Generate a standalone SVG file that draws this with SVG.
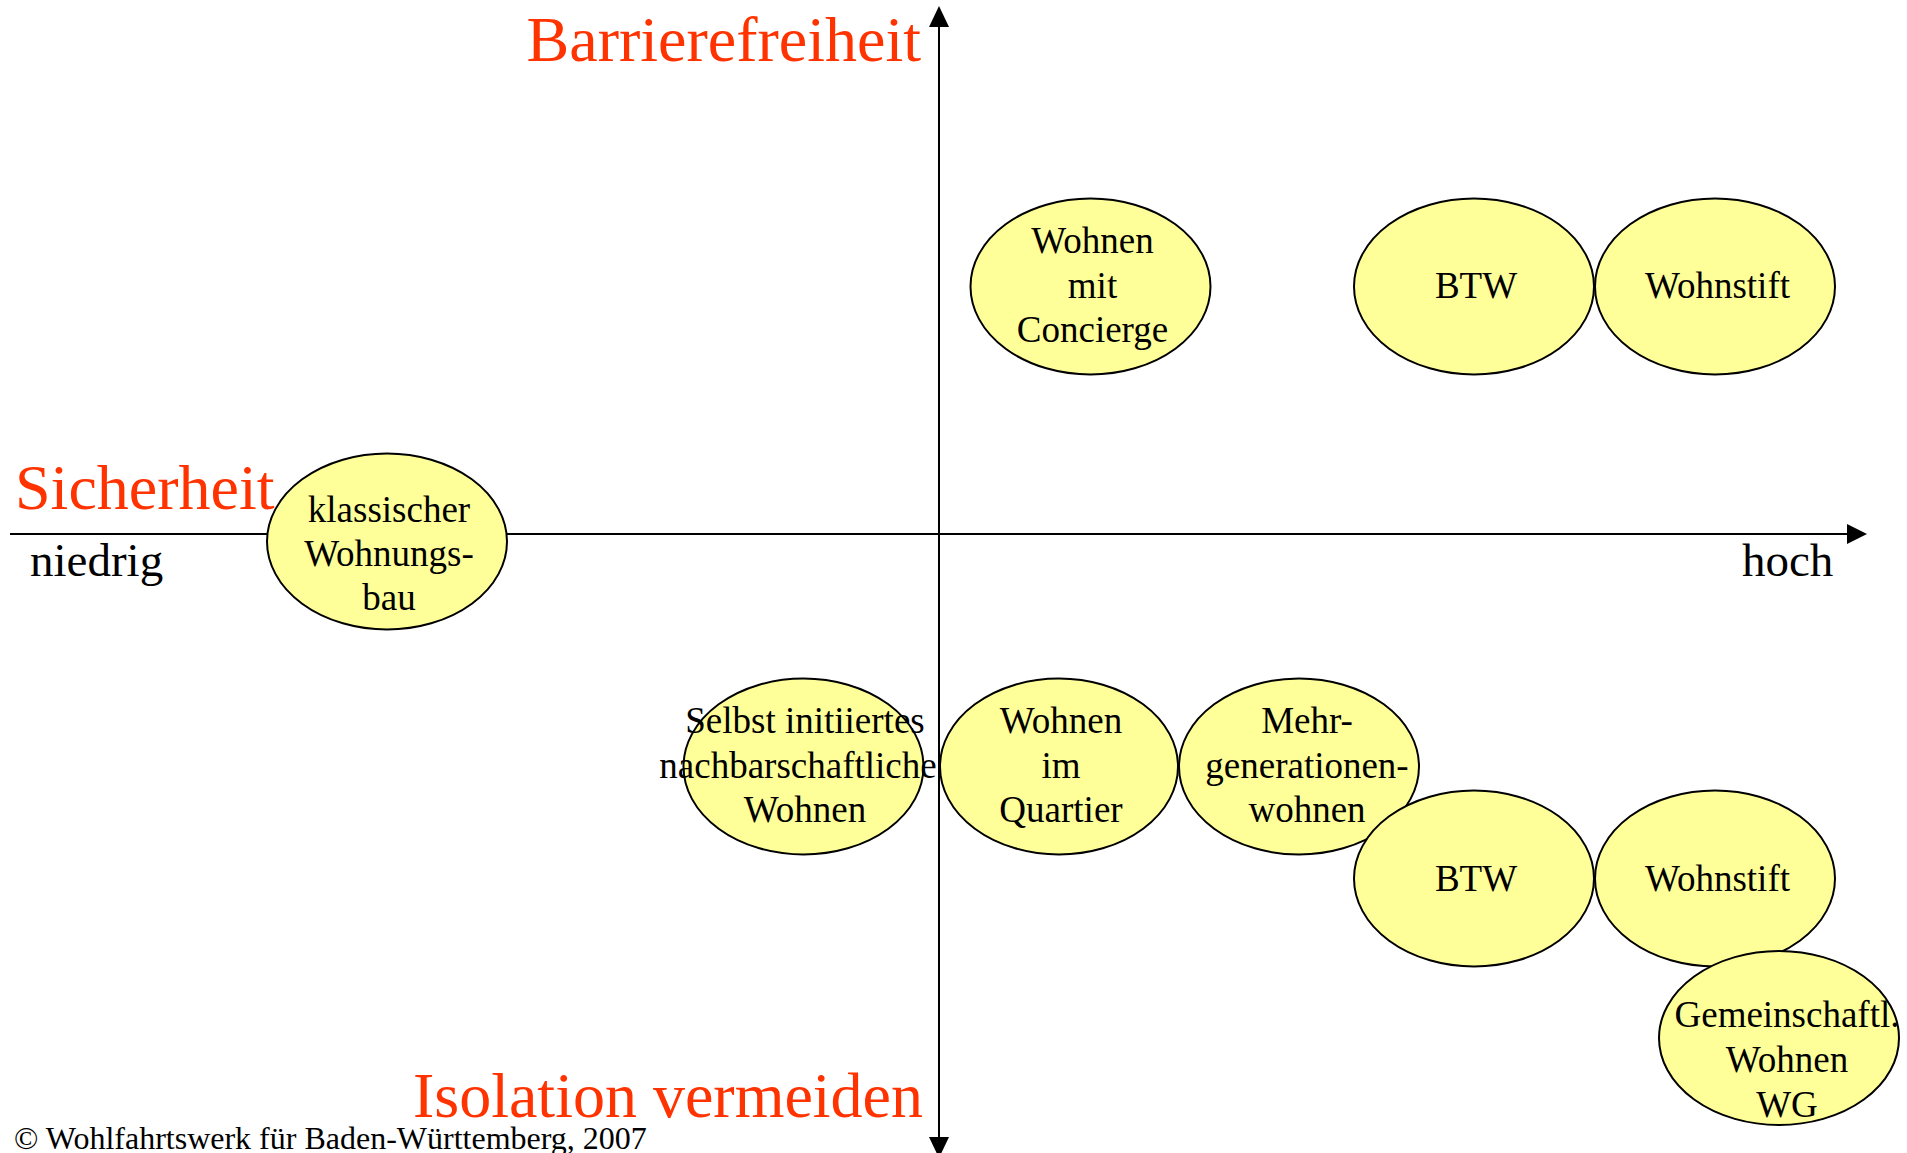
<svg xmlns="http://www.w3.org/2000/svg" width="1907" height="1153" viewBox="0 0 1907 1153">
<style>
.node ellipse{fill:#FFFF99;stroke:#000;stroke-width:2}
.node text{font-family:"Liberation Serif","Times New Roman",serif;font-size:37px;fill:#000;text-anchor:middle}
.axis{stroke:#000;stroke-width:2;fill:none}
.head{fill:#000}
.title{font-family:"Liberation Serif","Times New Roman",serif;font-size:64px;fill:#FF3300}
.lbl{font-family:"Liberation Serif","Times New Roman",serif;font-size:47px;fill:#000}
.copy{font-family:"Liberation Serif","Times New Roman",serif;font-size:32px;fill:#000}
</style>
<rect width="1907" height="1153" fill="#fff"/>
<g id="connectors">
<line class="axis" x1="10" y1="534" x2="1848" y2="534"/>
<polygon class="head" points="1847,524 1867,534 1847,544"/>
<line class="axis" x1="939" y1="25" x2="939" y2="1140"/>
<polygon class="head" points="929,27 939,6 949,27"/>
<polygon class="head" points="929,1137 939,1158 949,1137"/>
</g>
<g id="labels">
<text class="title" x="921" y="61" text-anchor="end">Barrierefreiheit</text>
<text class="title" x="15" y="509">Sicherheit</text>
<text class="title" x="923" y="1117" text-anchor="end">Isolation vermeiden</text>
<text class="lbl" x="30" y="576">niedrig</text>
<text class="lbl" x="1742" y="576">hoch</text>
<text class="copy" x="14" y="1149">© Wohlfahrtswerk für Baden-Württemberg, 2007</text>
</g>
<g id="klassischer" class="node">
<ellipse cx="387" cy="541.5" rx="120" ry="88"/>
<text x="389" y="522">klassischer</text>
<text x="389" y="566">Wohnungs-</text>
<text x="389" y="610">bau</text>
</g>
<g id="concierge" class="node">
<ellipse cx="1090.5" cy="286.5" rx="120" ry="88"/>
<text x="1092.5" y="253">Wohnen</text>
<text x="1092.5" y="298">mit</text>
<text x="1092.5" y="342">Concierge</text>
</g>
<g id="btw-top" class="node">
<ellipse cx="1474" cy="286.5" rx="120" ry="88"/>
<text x="1476" y="298">BTW</text>
</g>
<g id="wohnstift-top" class="node">
<ellipse cx="1715" cy="286.5" rx="120" ry="88"/>
<text x="1717.5" y="298">Wohnstift</text>
</g>
<g id="selbst" class="node">
<ellipse cx="803.5" cy="766.5" rx="120" ry="88"/>
<text x="805" y="733">Selbst initiiertes</text>
<text x="798" y="778">nachbarschaftliche</text>
<text x="805" y="822">Wohnen</text>
</g>
<g id="quartier" class="node">
<ellipse cx="1059" cy="766.5" rx="119" ry="88"/>
<text x="1061" y="733">Wohnen</text>
<text x="1061" y="778">im</text>
<text x="1061" y="822">Quartier</text>
</g>
<g id="mehrgenerationen" class="node">
<ellipse cx="1299" cy="766.5" rx="120" ry="88"/>
<text x="1307" y="733">Mehr-</text>
<text x="1307" y="778">generationen-</text>
<text x="1307" y="822">wohnen</text>
</g>
<g id="btw-bottom" class="node">
<ellipse cx="1474" cy="878.5" rx="120" ry="88"/>
<text x="1476" y="891">BTW</text>
</g>
<g id="wohnstift-bottom" class="node">
<ellipse cx="1715" cy="878.5" rx="120" ry="88"/>
<text x="1717.5" y="891">Wohnstift</text>
</g>
<g id="gemeinschaftl" class="node">
<ellipse cx="1779" cy="1038" rx="120" ry="87"/>
<text x="1787" y="1027">Gemeinschaftl.</text>
<text x="1787" y="1072">Wohnen</text>
<text x="1787" y="1117">WG</text>
</g>
</svg>
